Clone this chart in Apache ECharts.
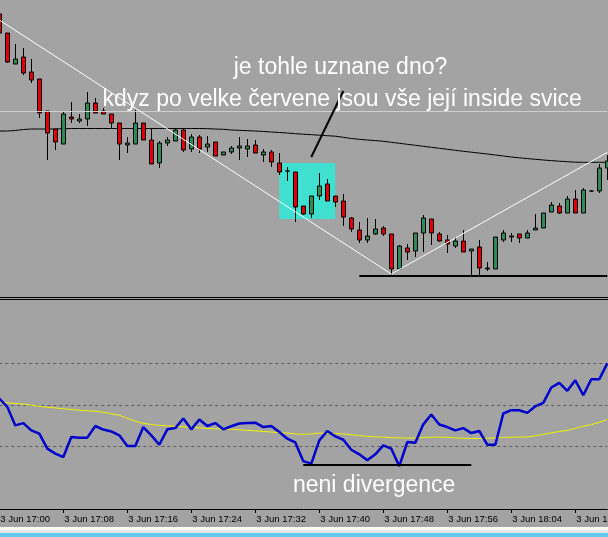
<!DOCTYPE html>
<html>
<head>
<meta charset="utf-8">
<script src="https://cdn.jsdelivr.net/npm/echarts@6/dist/echarts.min.js"></script>
<style>
  html, body { margin: 0; padding: 0; background: #a3a3a3; }
  #chart { width: 608px; height: 537px; }
</style>
</head>
<body>
<div id="chart"></div>
<script>
// one bar per minute, 3 Jun 17:00 .. 18:16
var categories = [];
for (var m = 0; m <= 76; m++) {
  var hh = 17 + Math.floor(m / 60), mm = m % 60;
  categories.push('3 Jun ' + hh + ':' + (mm < 10 ? '0' : '') + mm);
}

// [open, close, low, high] in chart points
var candles = [
  [286, 267, 267, 286], [267, 238, 237, 267], [236, 241, 236, 256], [243, 227, 225, 252],
  [228, 220, 217, 241], [221, 187, 182, 221], [189, 167, 140, 189], [171, 158, 150, 171],
  [156, 186, 156, 189], [183, 181, 177, 198], [179, 181, 177, 186], [181, 197, 174, 208],
  [197, 187, 187, 202], [189, 186, 186, 192], [186, 177, 172, 186], [177, 156, 140, 177],
  [155, 157, 147, 163], [156, 177, 156, 190], [177, 160, 160, 177], [160, 136, 136, 172],
  [137, 157, 132, 159], [157, 160, 154, 163], [159, 170, 159, 172], [170, 150, 148, 172],
  [151, 163, 148, 166], [163, 151, 147, 165], [153, 156, 148, 164], [158, 144, 144, 158],
  [145, 148, 145, 148], [148, 152, 146, 154], [152, 154, 140, 163], [151, 154, 143, 161],
  [155, 147, 147, 160], [145, 148, 138, 151], [148, 138, 133, 150], [137, 128, 125, 147],
  [129, 129, 119, 133], [128, 93, 78, 128], [94, 86, 85, 94], [86, 104, 82, 104],
  [104, 114, 100, 127], [116, 99, 99, 121], [104, 98, 93, 104], [99, 83, 74, 106],
  [82, 71, 68, 83], [70, 60, 57, 78], [60, 64, 57, 82], [66, 71, 65, 81],
  [72, 66, 64, 74], [66, 31, 25, 66], [31, 54, 31, 55], [52, 48, 40, 56],
  [49, 67, 43, 67], [67, 82, 48, 85], [81, 67, 55, 81], [66, 59, 58, 68],
  [60, 56, 47, 65], [54, 59, 52, 63], [59, 48, 48, 70], [49, 51, 25, 51],
  [53, 32, 25, 60], [31, 32, 29, 38], [31, 63, 31, 63], [60, 67, 58, 70],
  [63, 64, 58, 67], [66, 62, 57, 66], [62, 67, 62, 70], [70, 72, 70, 86],
  [72, 87, 72, 87], [88, 95, 88, 98], [94, 87, 86, 97], [87, 101, 87, 104],
  [101, 87, 87, 110], [87, 110, 87, 112], [109, 109, 108, 110], [109, 132, 107, 136],
  [132, 139, 120, 145]
];

var maLine = [
  169, 169, 169.5, 170.5, 171, 171, 171, 171, 171.3, 171.5,
  171.5, 171.5, 171.5, 171.5, 171.5, 171.5, 171.5, 171.5, 171.5, 171.5,
  171.5, 171.5, 171.5, 171.5, 171.5, 171.5, 171.3, 171, 170.7, 170,
  169.7, 169.3, 169, 168.5, 168, 167.5, 167, 166.3, 165.8, 165.3,
  164.8, 164.3, 163.8, 162.7, 161.5, 160.7, 160, 159.4, 158.7, 157.7,
  156.7, 155.7, 154.7, 153.7, 152.7, 151.7, 150.7, 149.7, 148.7, 147.8,
  146.9, 146, 145, 144, 143, 142.2, 141.4, 140.7, 140, 139.4,
  138.8, 138.3, 137.8, 137.7, 137.7, 137.7, 137.7
];

var rsiLine = [
  53.1, 49.1, 40.2, 41.3, 37.8, 36.2, 29.0, 26.6, 25.0, 34.6,
  34.3, 34.3, 39.9, 38.2, 37.3, 35.4, 30.3, 30.3, 39.4, 35.4,
  30.9, 38.3, 38.9, 43.5, 38.3, 43.0, 39.9, 41.3, 38.3, 39.8,
  41.1, 41.3, 41.5, 39.4, 39.9, 37.0, 33.8, 32.0, 23.0, 21.8,
  33.0, 37.5, 34.9, 33.3, 28.5, 26.3, 23.4, 26.3, 30.6, 29.0,
  20.6, 32.2, 31.9, 40.7, 45.4, 40.6, 39.4, 37.8, 38.9, 36.5,
  37.5, 30.9, 30.9, 45.9, 47.5, 47.5, 46.2, 49.4, 51.0, 58.4,
  60.6, 56.8, 61.9, 54.7, 62.4, 62.4, 70.0
];

var rsiSignal = [
  51.5, 51.1, 50.7, 50.4, 49.9, 49.4, 48.9, 48.6, 48.2, 47.8,
  47.5, 47.2, 47.0, 46.5, 45.8, 45.1, 43.6, 42.2, 41.2, 40.6,
  40.2, 40.0, 39.8, 39.5, 39.3, 39.0, 38.7, 38.6, 38.4, 38.3,
  38.1, 37.8, 37.6, 37.3, 37.0, 36.7, 36.5, 36.1, 35.9, 36.1,
  36.5, 36.4, 36.3, 36.1, 35.7, 35.3, 34.9, 34.7, 34.5, 34.3,
  34.2, 34.1, 34.2, 34.4, 34.5, 34.6, 34.4, 34.2, 34.0, 33.9,
  33.9, 34.0, 34.2, 34.4, 34.5, 34.6, 34.6, 35.2, 35.9, 36.6,
  37.3, 37.8, 38.8, 39.8, 40.6, 41.7, 43.0
];

var rsiLevels = [70, 50, 30];
var priceLine = 189;

// drawn objects: [startBar, startValue, endBar, endValue]
var trendDown = [0, 280, 49, 26];
var trendUp = [49, 26, 76, 147.6];
var supportLine = [45, 24.5, 76, 24.5];
var pointerLine = [42.6, 209, 38.9, 143];
var insideBox = [35, 137, 42, 81];
var rsiLowLine = [38, 21.3, 59, 21.3];

var question = 'je tohle uznane dno?';
var comment = 'kdyz po velke červene jsou vše její inside svice';
var rsiNote = 'neni divergence';

function seg(a, style) {
  return [{ coord: [a[0], a[1]], lineStyle: style }, { coord: [a[2], a[3]] }];
}

var font = '"Liberation Sans", Arial, sans-serif';
var chart = echarts.init(document.getElementById('chart'));

chart.setOption({
  animation: false,
  backgroundColor: '#a3a3a3',
  grid: [
    { left: -0.7, right: 0.7, top: 0, height: 297, outerBoundsMode: 'none', containLabel: false },
    { left: -0.7, right: 0.7, top: 301, height: 208, outerBoundsMode: 'none', containLabel: false }
  ],
  xAxis: [
    { type: 'category', gridIndex: 0, data: categories, boundaryGap: false, show: false },
    {
      type: 'category', gridIndex: 1, data: categories, boundaryGap: false,
      axisLine: { lineStyle: { color: '#000', width: 1 } },
      axisTick: { interval: 7, length: 4, lineStyle: { color: '#000' } },
      axisLabel: {
        interval: 7, align: 'left', margin: 5, color: '#000',
        fontSize: 9.5, fontFamily: font, padding: [0, 0, 0, 1], hideOverlap: false
      },
      splitLine: { show: false }
    }
  ],
  yAxis: [
    { type: 'value', gridIndex: 0, min: 3, max: 300, show: false },
    { type: 'value', gridIndex: 1, min: 0, max: 100, show: false }
  ],
  series: [
    {
      type: 'line', xAxisIndex: 0, yAxisIndex: 0, data: maLine,
      symbol: 'none', silent: true, z: 2,
      lineStyle: { color: '#000', width: 1 },
      markArea: {
        silent: true,
        itemStyle: { color: '#40e0d0' },
        data: [[{ coord: [insideBox[0], insideBox[1]] }, { coord: [insideBox[2], insideBox[3]] }]]
      }
    },
    {
      type: 'candlestick', xAxisIndex: 0, yAxisIndex: 0, data: candles,
      barWidth: 5, silent: true, z: 3,
      itemStyle: {
        color: '#2e8b57', color0: '#e00000',
        borderColor: '#000', borderColor0: '#000', borderColorDoji: '#000', borderWidth: 1
      },
      markLine: {
        silent: true, symbol: ['none', 'none'], label: { show: false },
        lineStyle: { type: 'solid' },
        data: [
          { yAxis: priceLine, lineStyle: { color: '#cfcfcf', width: 1, type: 'solid' } },
          seg(trendDown, { color: '#fff', width: 1, type: 'solid' }),
          seg(trendUp, { color: '#fff', width: 1, type: 'solid' }),
          seg(supportLine, { color: '#000', width: 2, type: 'solid' }),
          seg(pointerLine, { color: '#000', width: 2, type: 'solid' })
        ]
      }
    },
    {
      type: 'line', xAxisIndex: 1, yAxisIndex: 1, data: rsiSignal,
      symbol: 'none', silent: true, z: 2,
      lineStyle: { color: '#f2f200', width: 1 },
      markLine: {
        silent: true, z: 1, symbol: ['none', 'none'], label: { show: false },
        lineStyle: { color: '#5c5c5c', width: 1, type: [3, 3] },
        data: rsiLevels.map(function (v) { return { yAxis: v }; })
      }
    },
    {
      type: 'line', xAxisIndex: 1, yAxisIndex: 1, data: rsiLine,
      symbol: 'none', silent: true, z: 3,
      lineStyle: { color: '#0000cd', width: 2.5 },
      markLine: {
        silent: true, symbol: ['none', 'none'], label: { show: false },
        data: [seg(rsiLowLine, { color: '#000', width: 2, type: 'solid' })]
      }
    }
  ],
  graphic: [
    { type: 'line', silent: true, shape: { x1: 0, y1: 297.5, x2: 608, y2: 297.5 }, style: { stroke: '#000', lineWidth: 1 } },
    { type: 'line', silent: true, shape: { x1: 0, y1: 299.5, x2: 608, y2: 299.5 }, style: { stroke: '#000', lineWidth: 1 } },
    { type: 'rect', silent: true, shape: { x: 0, y: 527, width: 608, height: 3 }, style: { fill: '#ffffff' } },
    { type: 'rect', silent: true, shape: { x: 0, y: 530, width: 608, height: 3 }, style: { fill: '#e6e6e6' } },
    { type: 'rect', silent: true, shape: { x: 0, y: 533, width: 608, height: 4 }, style: { fill: '#62c9ec' } },
    {
      type: 'text', silent: true, x: 340.5, y: 67.5, z: 10,
      style: { text: question, fill: '#fff', fontSize: 23, fontFamily: font, align: 'center', verticalAlign: 'middle' }
    },
    {
      type: 'text', silent: true, x: 102.5, y: 99.5, z: 10,
      style: { text: comment, fill: '#fff', fontSize: 23, fontFamily: font, align: 'left', verticalAlign: 'middle' }
    },
    {
      type: 'text', silent: true, x: 293, y: 486, z: 10,
      style: { text: rsiNote, fill: '#fff', fontSize: 23, fontFamily: font, align: 'left', verticalAlign: 'middle' }
    }
  ]
});
</script>
</body>
</html>
